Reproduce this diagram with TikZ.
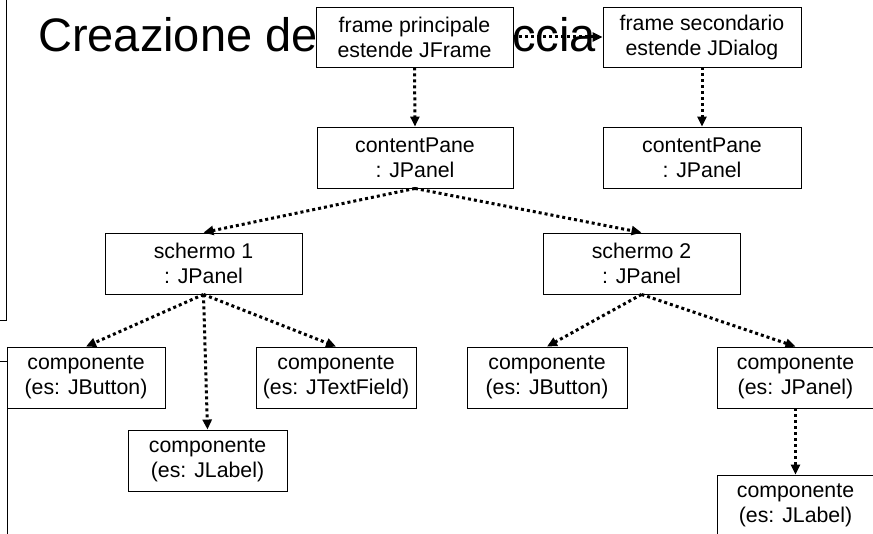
\documentclass[tikz,border=0pt]{standalone}
\usepackage{fontspec}
\setmainfont{Liberation Sans}
\usetikzlibrary{arrows.meta}
\begin{document}
\begin{tikzpicture}[x=1pt,y=-1pt,
  box/.style={draw=black, line width=0.9pt, fill=white, align=center, inner sep=0pt,
    font=\fontsize{21.3}{25}\selectfont, minimum height=61pt},
  link/.style={line width=3pt, dash pattern=on 3pt off 3pt,
    -{Triangle[length=10pt,width=9pt]}},
  edge/.style={line width=0.8pt},
  titletext/.style={inner sep=0pt, font=\fontsize{47}{56}\selectfont}]
\useasboundingbox (0,0) rectangle (873,534);
% title remnants
\node[titletext, anchor=base west] (t1) at (38,52) {Creazione de};
\node[titletext, anchor=base east] (t2) at (596,52) {ccia};
% left slide edge lines
\draw[edge] (6.5,0) -- (6.5,320) -- (0,320);
\draw[edge] (0,361) -- (7,361);
\draw[edge] (7,347) -- (7,534);
% boxes
\node[box, minimum width=197pt, minimum height=60pt] (fp) at (414.5,37) {frame principale\\estende JFrame};
\node[box, minimum width=198pt, minimum height=60pt] (fs) at (702,37) {frame secondario\\estende JDialog};
\node[box, minimum width=196pt] (cp1) at (415,157.5) {contentPane\\: JPanel};
\node[box, minimum width=198pt] (cp2) at (702,157.5) {contentPane\\: JPanel};
\node[box, minimum width=197pt] (s1) at (203.5,263.5) {schermo 1\\: JPanel};
\node[box, minimum width=197pt] (s2) at (641.5,263.5) {schermo 2\\: JPanel};
\node[box, minimum width=158pt] (c1) at (86,377.5) {componente\\(es: JButton)};
\node[box, minimum width=160pt] (c2) at (336,377.5) {componente\\(es: JTextField)};
\node[box, minimum width=159pt] (c3) at (207.5,460.5) {componente\\(es: JLabel)};
\node[box, minimum width=160pt] (c4) at (547,377.5) {componente\\(es: JButton)};
\node[box, minimum width=157pt] (c5) at (795.5,377.5) {componente\\(es: JPanel)};
\node[box, minimum width=157pt] (c6) at (795.5,505.5) {componente\\(es: JLabel)};
% connectors
\draw[link] (fp.east) -- (fs.west);
\draw[link] (fp.south) -- (cp1.north);
\draw[link] (fs.south) -- (cp2.north);
\draw[link] (cp1.south) -- (s1.north);
\draw[link] (cp1.south) -- (s2.north);
\draw[link] (s1.south) -- (c1.north);
\draw[link] (s1.south) -- (c2.north);
\draw[link] (s1.south) -- (c3.north);
\draw[link] (s2.south) -- (c4.north);
\draw[link] (s2.south) -- (c5.north);
\draw[link] (c5.south) -- (c6.north);
\end{tikzpicture}
\end{document}
